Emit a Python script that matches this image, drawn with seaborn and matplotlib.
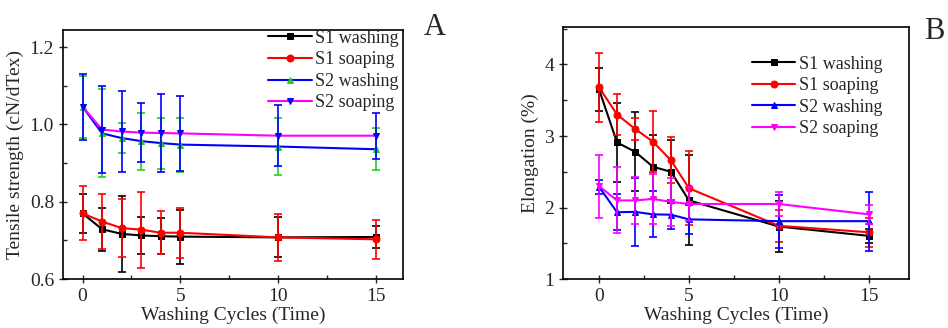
import numpy as np
import pandas as pd
import matplotlib
matplotlib.use("Agg")
import matplotlib.pyplot as plt
import seaborn as sns
from matplotlib.ticker import MultipleLocator

cycles = [0, 1, 2, 3, 4, 5, 10, 15]
series_names = ["S1 washing", "S1 soaping", "S2 washing", "S2 soaping"]

# tensile strength (cN/dTex)
s1_wash_ts = [0.770, 0.729, 0.717, 0.713, 0.711, 0.710, 0.708, 0.709]
s1_wash_ts_err = [0.050, 0.056, 0.098, 0.048, 0.046, 0.070, 0.052, 0.028]
s1_soap_ts = [0.770, 0.749, 0.732, 0.728, 0.720, 0.720, 0.708, 0.703]
s1_soap_ts_err = [0.070, 0.070, 0.075, 0.098, 0.056, 0.065, 0.061, 0.050]
s2_wash_ts = [1.046, 0.977, 0.965, 0.957, 0.952, 0.948, 0.943, 0.936]
s2_wash_ts_err = [0.080, 0.114, 0.039, 0.074, 0.066, 0.070, 0.073, 0.054]
s2_soap_ts = [1.046, 0.987, 0.982, 0.979, 0.978, 0.977, 0.971, 0.971]
s2_soap_ts_err = [0.085, 0.112, 0.105, 0.076, 0.102, 0.096, 0.079, 0.060]

# elongation (%)
s1_wash_el = [3.65, 2.91, 2.78, 2.57, 2.50, 2.10, 1.735, 1.605]
s1_wash_el_err = [0.30, 0.55, 0.55, 0.45, 0.44, 0.63, 0.36, 0.10]
s1_soap_el = [3.68, 3.30, 3.10, 2.92, 2.66, 2.27, 1.745, 1.655]
s1_soap_el_err = [0.48, 0.28, 0.15, 0.43, 0.32, 0.52, 0.22, 0.20]
s2_wash_el = [2.29, 1.935, 1.94, 1.905, 1.90, 1.835, 1.81, 1.81]
s2_wash_el_err = [0.10, 0.25, 0.48, 0.32, 0.20, 0.20, 0.37, 0.41]
s2_soap_el = [2.30, 2.10, 2.10, 2.12, 2.08, 2.05, 2.05, 1.905]
s2_soap_el_err = [0.44, 0.46, 0.33, 0.35, 0.34, 0.24, 0.17, 0.13]

sns.set_style("ticks")
plt.rcParams["font.family"] = ["Liberation Serif", "DejaVu Serif"]

# (line colour, marker, marker colour)
styles_a = [("black", "s", "black"), ("red", "o", "red"),
            ("blue", "^", "#22cc22"), ("magenta", "v", "blue")]
styles_b = [("black", "s", "black"), ("red", "o", "red"),
            ("blue", "^", "blue"), ("magenta", "v", "magenta")]


def draw_panel(ax, vals, errs, styles):
    for name, y, e, (lc, mk, mc) in zip(series_names, vals, errs, styles):
        df = pd.DataFrame({"cycle": cycles, "value": y})
        sns.lineplot(data=df, x="cycle", y="value", ax=ax, color=lc, marker=mk,
                     markersize=5, markerfacecolor=mc, markeredgecolor=mc,
                     linewidth=1.5, label=name)
        ax.errorbar(cycles, y, yerr=e, fmt="none", ecolor=mc, elinewidth=1.2,
                    capsize=3, capthick=1.2)


fig = plt.figure(figsize=(9.48, 3.28), dpi=100)
ax1 = fig.add_axes([0.0665, 0.149, 0.3586, 0.759])
ax2 = fig.add_axes([0.594, 0.149, 0.365, 0.768])

draw_panel(ax1, [s1_wash_ts, s1_soap_ts, s2_wash_ts, s2_soap_ts],
           [s1_wash_ts_err, s1_soap_ts_err, s2_wash_ts_err, s2_soap_ts_err], styles_a)
draw_panel(ax2, [s1_wash_el, s1_soap_el, s2_wash_el, s2_soap_el],
           [s1_wash_el_err, s1_soap_el_err, s2_wash_el_err, s2_soap_el_err], styles_b)

ax1.set_xlim(-1, 16.4)
ax1.set_ylim(0.6, 1.244)
ax1.yaxis.set_major_locator(MultipleLocator(0.2))
ax1.yaxis.set_minor_locator(MultipleLocator(0.1))
ax1.set_ylabel("Tensile strength (cN/dTex)", fontsize=14)

ax2.set_xlim(-2, 17.25)
ax2.set_ylim(1, 4.52)
ax2.yaxis.set_major_locator(MultipleLocator(1))
ax2.yaxis.set_minor_locator(MultipleLocator(0.5))
ax2.set_ylabel("Elongation (%)", fontsize=14)

for ax in (ax1, ax2):
    ax.xaxis.set_major_locator(MultipleLocator(5))
    ax.xaxis.set_minor_locator(MultipleLocator(2.5))
    ax.set_xlabel("Washing Cycles (Time)", fontsize=14, labelpad=1)
    ax.tick_params(which="major", direction="inout", length=6, width=1, labelsize=14)
    ax.tick_params(which="minor", direction="in", length=3, width=1)
    for sp in ax.spines.values():
        sp.set_linewidth(1.2)
        sp.set_color("black")

ax1.legend(loc="upper right", bbox_to_anchor=(1.02, 1.045), frameon=False, fontsize=13,
           handlelength=2.4, handletextpad=0.2, labelspacing=0.25, borderaxespad=0.2)
ax2.legend(loc="upper right", bbox_to_anchor=(0.955, 0.93), frameon=False, fontsize=13,
           handlelength=2.4, handletextpad=0.2, labelspacing=0.25, borderaxespad=0.2)

fig.text(0.459, 0.915, "A", fontsize=22, ha="center", va="center")
fig.text(0.986, 0.905, "B", fontsize=22, ha="center", va="center")

fig.savefig("out.png", dpi=100)
